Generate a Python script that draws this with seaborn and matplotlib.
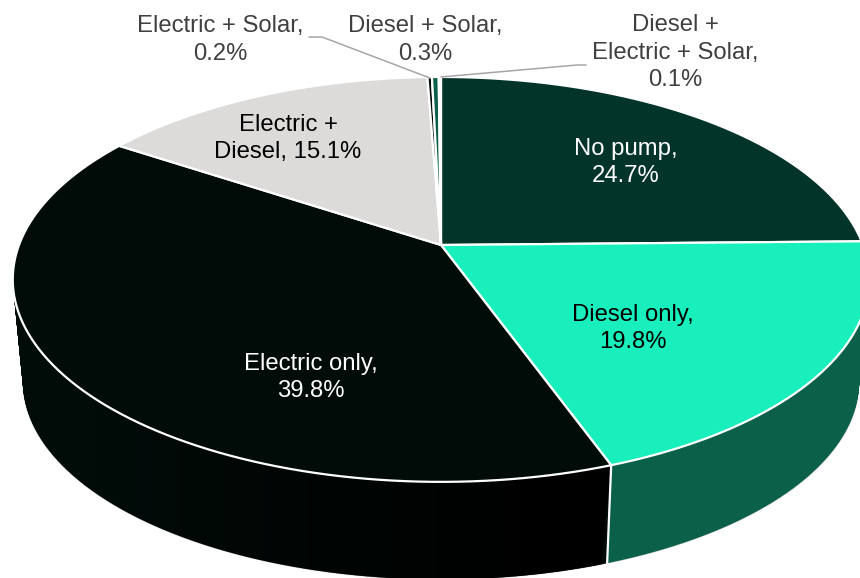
import numpy as np
import matplotlib
matplotlib.use("Agg")
import matplotlib.pyplot as plt
from matplotlib.path import Path
from matplotlib.transforms import Transform
import seaborn as sns

# ---- data -------------------------------------------------------------
categories = ["No pump", "Diesel only", "Electric only", "Electric + Diesel",
              "Electric + Solar", "Diesel + Solar", "Diesel + Electric + Solar"]
shares = [24.7, 19.8, 39.8, 15.1, 0.2, 0.3, 0.1]
top_colors = ["#03342a", "#18efbc", "#010c08", "#dddbda", "#010c08", "#0b6049", "#8fe8d0"]
side_colors = ["#03342a", "#0b6049", "#010b08", "#b9b7b6", "#010b08", "#0b6049", "#8fe8d0"]

label_text = ["No pump,\n24.7%", "Diesel only,\n19.8%", "Electric only,\n39.8%",
              "Electric +\nDiesel, 15.1%", "Electric + Solar,\n0.2%",
              "Diesel + Solar,\n0.3%", "Diesel +\nElectric + Solar,\n0.1%"]
label_xy = [(626, 162.5), (633, 328.5), (311, 377.5), (288, 138.5),
            (220, 40), (425, 40), (675, 52.5)]
label_color = ["white", "black", "white", "black", "#404040", "#404040", "#404040"]
leaders = [[(309, 37), (322, 37), (430, 78)],
           [(586, 65), (577, 65), (441, 77)]]

# ---- viewing geometry --------------------------------------------------
APEX_X, APEX_Y = 441.0, 245.0
SCALE_X, SCALE_Y, TILT = 422.0, 196.6, 0.17
VANISH_Y, FLOOR = 4600.0, 0.9763


class Perspective(Transform):
    """Projects the flat unit-circle pie on to a tilted disc, in pixel data units."""
    input_dims = output_dims = 2
    is_separable = False
    has_inverse = False

    def __init__(self, layer=1.0):
        super().__init__()
        self.layer = layer

    def transform_non_affine(self, values):
        values = np.asarray(values, float)
        u, v = values[:, 0], values[:, 1]
        w = 1 + TILT * v
        x = APEX_X + SCALE_X * u / w
        y = APEX_Y - SCALE_Y * v / w
        x = APEX_X + self.layer * (x - APEX_X)
        y = VANISH_Y + self.layer * (y - VANISH_Y)
        return np.column_stack([x, y])

    def transform_path_non_affine(self, path):
        pts = []
        for seg, code in path.iter_bezier():
            if code == Path.MOVETO:
                pts.append(seg.control_points[0])
            elif code == Path.CLOSEPOLY:
                continue
            else:
                t = np.linspace(0, 1, 25)[1:]
                pts.extend(seg(t))
        pts = np.asarray(pts)
        closed = np.vstack([pts, pts[0]])
        return Path(self.transform_non_affine(closed), closed=True)


sns.set_theme(style="white")
plt.rcParams["font.family"] = ["Liberation Sans", "DejaVu Sans"]

fig = plt.figure(figsize=(8.6, 5.78), dpi=100, facecolor="white")
ax = fig.add_axes([0, 0, 1, 1])


def draw_pie(colors, layer, **wedgeprops):
    wedges, _ = ax.pie(shares, colors=sns.color_palette(colors), startangle=90,
                       counterclock=False, radius=1, wedgeprops=wedgeprops)
    proj = Perspective(layer) + ax.transData
    for w in wedges:
        w.set_transform(proj)
    return wedges


# side wall: stacked copies of the pie from the floor upward
draw_pie(side_colors, FLOOR, linewidth=0.8, edgecolor="#cfcfcf")
for d in np.linspace(FLOOR, 1.0, 110):
    draw_pie(side_colors, d, linewidth=0)

# shading of the Electric only wall: darkens toward the Diesel boundary
edges = 90 - 360 * np.cumsum(shares) / np.sum(shares)
arc = np.deg2rad(np.linspace(edges[1], edges[2], 200))
circle = np.column_stack([np.cos(arc), np.sin(arc)])
wall = np.vstack([Perspective(1.0).transform(circle),
                  Perspective(FLOOR).transform(circle)[::-1]])
ramp = np.zeros((1, 256, 4))
ramp[..., 3] = np.clip(np.linspace(-0.2, 1.1, 256), 0, 1)
shade = ax.imshow(ramp, extent=(0, 610, 578, 0), aspect="auto", zorder=2)
shade.set_clip_path(Path(wall, closed=True), ax.transData)

# white divider on the wall, at the Diesel / Electric boundary
pt = circle[:1]
p0 = Perspective(1.0).transform(pt)[0]
p1 = Perspective(FLOOR).transform(pt)[0]
ax.plot([p0[0], p1[0]], [p0[1], p1[1]], color="white", lw=1.6, zorder=3)

# top face
for w in draw_pie(top_colors, 1.0, linewidth=1.6, edgecolor="white"):
    w.set_zorder(4)

ax.set_aspect("auto")
ax.set_xlim(0, 860)
ax.set_ylim(578, 0)
ax.axis("off")

for line in leaders:
    xs, ys = zip(*line)
    ax.plot(xs, ys, color="#a6a6a6", lw=1.1, zorder=5, solid_joinstyle="round")

for txt, (x, y), col in zip(label_text, label_xy, label_color):
    ax.text(x, y, txt, color=col, fontsize=17.2, ha="center", va="center",
            linespacing=1.3, zorder=6)

fig.savefig("out.png", dpi=100, facecolor="white")
